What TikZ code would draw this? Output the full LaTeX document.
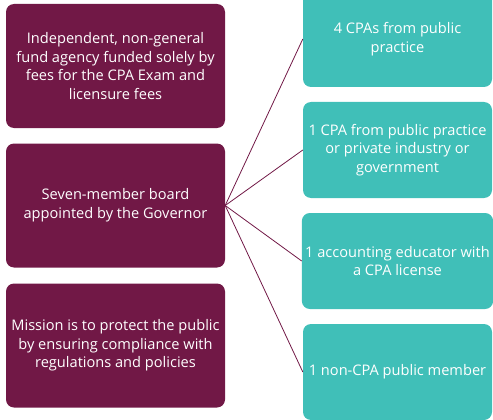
\documentclass[tikz,border=0pt]{standalone}
\usepackage{fontspec}
\setmainfont{Open Sans}
\begin{document}
\begin{tikzpicture}[x=1pt,y=-1pt,
  leftbox/.style={fill=boardmaroon, rounded corners=8pt, minimum width=219pt, minimum height=124pt, text=white, align=center, font=\fontsize{14.6}{18.6}\selectfont},
  rightbox/.style={fill=memberteal, rounded corners=8pt, minimum width=189pt, minimum height=96pt, text=white, align=center, font=\fontsize{14.6}{18.6}\selectfont},
  link/.style={boardmaroon, line width=0.8pt}]
  % Define colors
  \definecolor{boardmaroon}{RGB}{113,24,70}
  \definecolor{memberteal}{RGB}{64,191,184}

  \useasboundingbox (0,0) rectangle (493,420);

  % Left column
  \node[leftbox] (agency) at (115.5,66) {Independent, non-general\\fund agency funded solely by\\fees for the CPA Exam and\\licensure fees};
  \node[leftbox] (board) at (115.5,205.5) {Seven-member board\\appointed by the Governor};
  \node[leftbox] (mission) at (115.5,345.5) {Mission is to protect the public\\by ensuring compliance with\\regulations and policies};

  % Right column
  \node[rightbox] (cpas) at (397.5,39) {4 CPAs from public\\practice};
  \node[rightbox] (industry) at (397.5,150) {1 CPA from public practice\\or private industry or\\government};
  \node[rightbox] (educator) at (397.5,261) {1 accounting educator with\\a CPA license};
  \node[rightbox] (public) at (397.5,372) {1 non-CPA public member};

  % Connectors from the board
  \foreach \member in {cpas,industry,educator,public}
    \draw[link] (board.east) -- (\member.west);
\end{tikzpicture}
\end{document}
